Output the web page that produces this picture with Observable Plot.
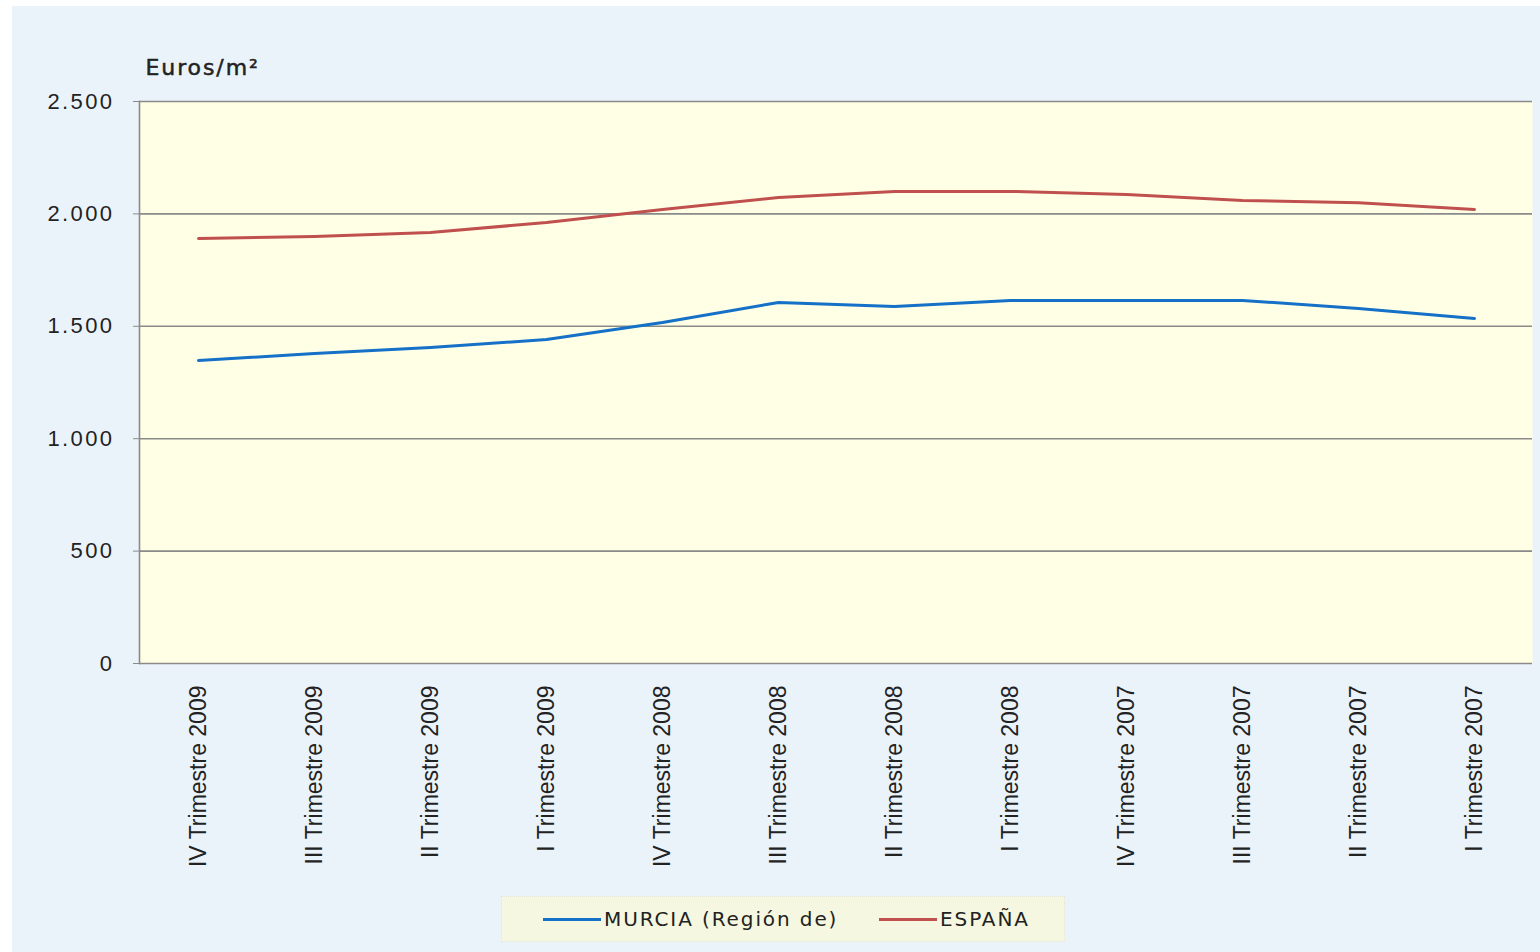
<!DOCTYPE html>
<html><head><meta charset="utf-8">
<script src="https://cdn.jsdelivr.net/npm/d3@7"></script>
<script src="https://cdn.jsdelivr.net/npm/@observablehq/plot@0.6"></script>
<style>
html,body{margin:0;padding:0;background:#ffffff;}
#panel{position:absolute;left:12px;top:6px;width:1528px;height:946px;background:#ebf3fa;}
#legend{position:absolute;left:489px;top:890px;width:562px;height:44px;background:#f5f7e0;border:1px dotted #e2e6d8;
 font-family:"DejaVu Sans",sans-serif;font-size:20px;letter-spacing:1.9px;color:#222;}
.item{position:absolute;top:10px;display:flex;align-items:center;white-space:nowrap;}
.sw{display:inline-block;width:58px;height:3px;margin-right:3px;}
</style></head>
<body>
<div id="panel"><div id="chart"></div><div id="legend"></div></div>
<script>
const categories = ["IV Trimestre 2009","III Trimestre 2009","II Trimestre 2009","I Trimestre 2009",
  "IV Trimestre 2008","III Trimestre 2008","II Trimestre 2008","I Trimestre 2008",
  "IV Trimestre 2007","III Trimestre 2007","II Trimestre 2007","I Trimestre 2007"];
const murcia = [1348,1379,1406,1441,1517,1606,1588,1615,1615,1615,1579,1535];
const espana = [1891,1899,1917,1962,2020,2073,2100,2100,2086,2060,2050,2020];
const seriesNames = ["MURCIA (Región de)","ESPAÑA"];
const seriesColors = ["#1570c8","#c0504d"];
const yTicks = [0,500,1000,1500,2000,2500];

const rows = [];
categories.forEach((c,i)=>{
  rows.push({cat:c, serie:seriesNames[0], v:murcia[i]});
  rows.push({cat:c, serie:seriesNames[1], v:espana[i]});
});
const loc = d3.formatLocale({decimal:",",thousands:".",grouping:[3],currency:["","€"]});
const fmt = loc.format(",");

const plot = Plot.plot({
  width:1528, height:880,
  marginTop:95, marginBottom:223, marginLeft:127, marginRight:8,
  x:{type:"point", domain:categories, padding:0.5},
  y:{domain:[0,2500]},
  color:{domain:seriesNames, range:seriesColors},
  style:{background:"transparent"},
  marks:[
    Plot.frame({fill:"#ffffe5", stroke:null}),
    Plot.gridY(yTicks,{stroke:"#8a8a8a", strokeOpacity:1, strokeWidth:1.6}),
    Plot.frame({anchor:"left", stroke:"#8a8a8a", strokeWidth:1.6}),
    Plot.axisY(yTicks,{tickSize:6, tickPadding:19, tickFormat:fmt, label:null,
      fontSize:22, fontFamily:"Liberation Sans, Arial, sans-serif", fill:"#222", stroke:"#8a8a8a"}),
    Plot.axisX({tickSize:0, tickPadding:22, tickRotate:-90, label:null,
      fontSize:23, fontFamily:"Liberation Sans, Arial, sans-serif", fill:"#222"}),
    Plot.lineY(rows,{x:"cat", y:"v", stroke:"serie", strokeWidth:3}),
    Plot.text(["Euros/m²"],{frameAnchor:"top-left", dx:6, dy:-27, lineAnchor:"bottom", textAnchor:"start",
      fontSize:22, fontFamily:"DejaVu Sans, sans-serif", fill:"#222", stroke:"#222", strokeWidth:0.5})
  ]
});
document.getElementById("chart").appendChild(plot);
d3.select(plot).selectAll('g[aria-label="y-axis tick label"] text').style("letter-spacing","2.4px");
d3.select(plot).selectAll('g[aria-label="text"] text').style("letter-spacing","1.9px");

const lg = document.getElementById("legend");
const lefts = [41, 377];
seriesNames.forEach((n,i)=>{
  const d = document.createElement("div");
  d.className="item"; d.style.left=lefts[i]+"px";
  d.innerHTML = `<span class="sw" style="background:${seriesColors[i]}"></span><span>${n}</span>`;
  lg.appendChild(d);
});
</script>
</body></html>
